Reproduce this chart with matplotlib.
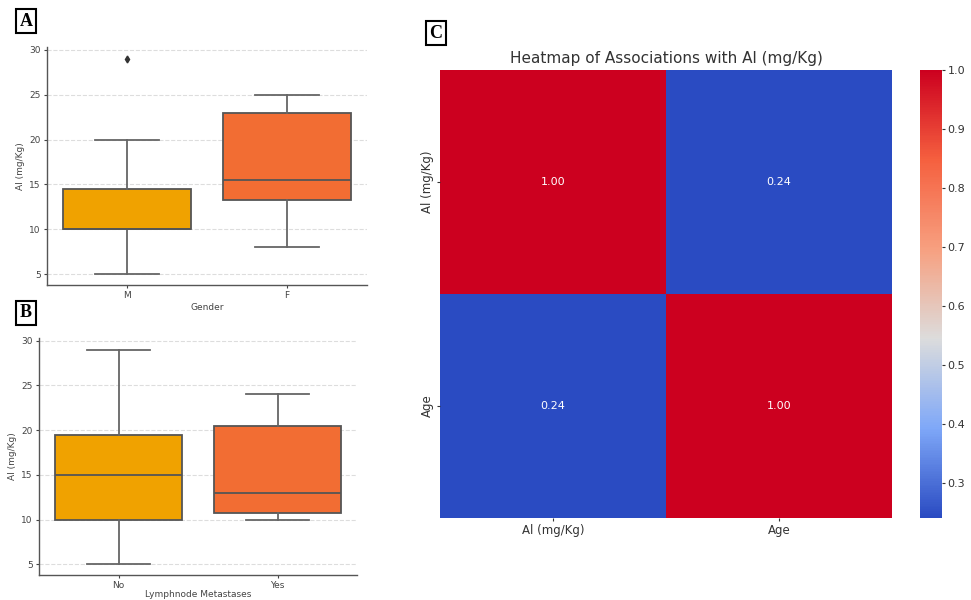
import matplotlib
matplotlib.use("Agg")
import matplotlib.pyplot as plt
import numpy as np
from matplotlib.colors import LinearSegmentedColormap

# ---------------- data ----------------
gender_cats = ["M", "F"]
gender_whislo = [5, 8]
gender_q1 = [10, 13.3]
gender_med = [10, 15.5]
gender_q3 = [14.5, 23]
gender_whishi = [20, 25]
gender_fliers = [[29], []]

lymph_cats = ["No", "Yes"]
lymph_whislo = [5, 10]
lymph_q1 = [10, 10.75]
lymph_med = [15, 13]
lymph_q3 = [19.5, 20.5]
lymph_whishi = [29, 24]
lymph_fliers = [[], []]

box_colors = ["#f0a200", "#f26d33"]

heat_labels = ["Al (mg/Kg)", "Age"]
heat_values = [[1.00, 0.24],
               [0.24, 1.00]]
cbar_ticks = [0.3, 0.4, 0.5, 0.6, 0.7, 0.8, 0.9, 1.0]
y_ticks = [5, 10, 15, 20, 25, 30]

plt.rcParams['font.family'] = ['DejaVu Sans']

fig = plt.figure(figsize=(9.71, 6.0), dpi=100)

W, H = 971.0, 600.0
def rect(x0, y0, x1, y1):
    return [x0 / W, 1 - y1 / H, (x1 - x0) / W, (y1 - y0) / H]


def boxpanel(ax, cats, wlo, q1, med, q3, whi, fliers, xlabel, lpad):
    stats = []
    for i in range(len(cats)):
        stats.append(dict(label=cats[i], whislo=wlo[i], q1=q1[i], med=med[i],
                          q3=q3[i], whishi=whi[i], fliers=fliers[i]))
    edge = "#555555"
    bp = ax.bxp(stats, positions=range(len(cats)), widths=0.8, patch_artist=True,
                showfliers=True,
                boxprops=dict(edgecolor=edge, linewidth=1.3),
                medianprops=dict(color=edge, linewidth=1.3),
                whiskerprops=dict(color="#666666", linewidth=1.3),
                capprops=dict(color="#666666", linewidth=1.3),
                flierprops=dict(marker="d", markersize=3.5, markerfacecolor="#333333",
                                markeredgecolor="#333333"),
                capwidths=0.4)
    for patch, c in zip(bp["boxes"], box_colors):
        patch.set_facecolor(c)
    ax.set_xlim(-0.5, 1.5)
    ax.set_ylim(3.8, 30.3)
    ax.set_yticks(y_ticks)
    ax.set_xticks(range(len(cats)))
    ax.set_xticklabels(cats)
    ax.yaxis.grid(True, linestyle="--", color="#dddddd", linewidth=0.8)
    ax.set_axisbelow(True)
    for s in ["top", "right"]:
        ax.spines[s].set_visible(False)
    for s in ["left", "bottom"]:
        ax.spines[s].set_color("#555555")
        ax.spines[s].set_linewidth(1.0)
    ax.tick_params(labelsize=6.5, colors="#444444", length=2.5, width=0.8, pad=2)
    ax.set_ylabel("Al (mg/Kg)", fontsize=6.5, color="#444444", labelpad=3)
    ax.set_xlabel(xlabel, fontsize=6.5, color="#444444", labelpad=lpad)


axA = fig.add_axes(rect(47, 47, 367, 285))
boxpanel(axA, gender_cats, gender_whislo, gender_q1, gender_med, gender_q3,
         gender_whishi, gender_fliers, "Gender", 2)

axB = fig.add_axes(rect(39, 338, 357, 575))
boxpanel(axB, lymph_cats, lymph_whislo, lymph_q1, lymph_med, lymph_q3,
         lymph_whishi, lymph_fliers, "Lymphnode Metastases", 0.5)
axB.tick_params(axis="x", pad=1.5)

# ---------------- heatmap ----------------
cmap = LinearSegmentedColormap.from_list(
    "cw", ["#2a4bc2", "#7fa8f8", "#dcdcdc", "#f7a080", "#f5603f", "#cc001f"])
axC = fig.add_axes(rect(440, 70, 892, 518))
cax = fig.add_axes(rect(920, 70, 942, 518))
vals = np.array(heat_values)
vmin = vals.min()
im = axC.pcolormesh(vals, cmap=cmap, vmin=vmin, vmax=1.0)
axC.set_xlim(0, 2)
axC.set_ylim(2, 0)
axC.set_xticks([0.5, 1.5])
axC.set_xticklabels(heat_labels)
axC.set_yticks([0.5, 1.5])
axC.set_yticklabels(heat_labels, rotation=90, va="center")
for s in axC.spines.values():
    s.set_visible(False)
axC.tick_params(labelsize=8.5, colors="#333333", length=2.5, width=0.8, pad=2)
for i in range(2):
    for j in range(2):
        axC.text(j + 0.5, i + 0.5, f"{vals[i, j]:.2f}", ha="center", va="center",
                 color="white", fontsize=8)
axC.set_title("Heatmap of Associations with Al (mg/Kg)", fontsize=11,
              color="#333333", pad=5)
cb = fig.colorbar(im, cax=cax, ticks=cbar_ticks)
cb.outline.set_visible(False)
cb.ax.tick_params(labelsize=8, colors="#333333", length=2.5, width=0.8, pad=1.5)

# ---------------- panel letters ----------------
for lab, x, y in [("A", 26, 21), ("B", 26, 313), ("C", 436, 33)]:
    fig.text(x / W, 1 - y / H, lab, ha="center", va="center", fontsize=13,
             fontweight="bold", family="Liberation Serif",
             bbox=dict(boxstyle="square,pad=0.2", facecolor="white",
                       edgecolor="black", linewidth=1.5))

fig.savefig("out.png", dpi=100)
